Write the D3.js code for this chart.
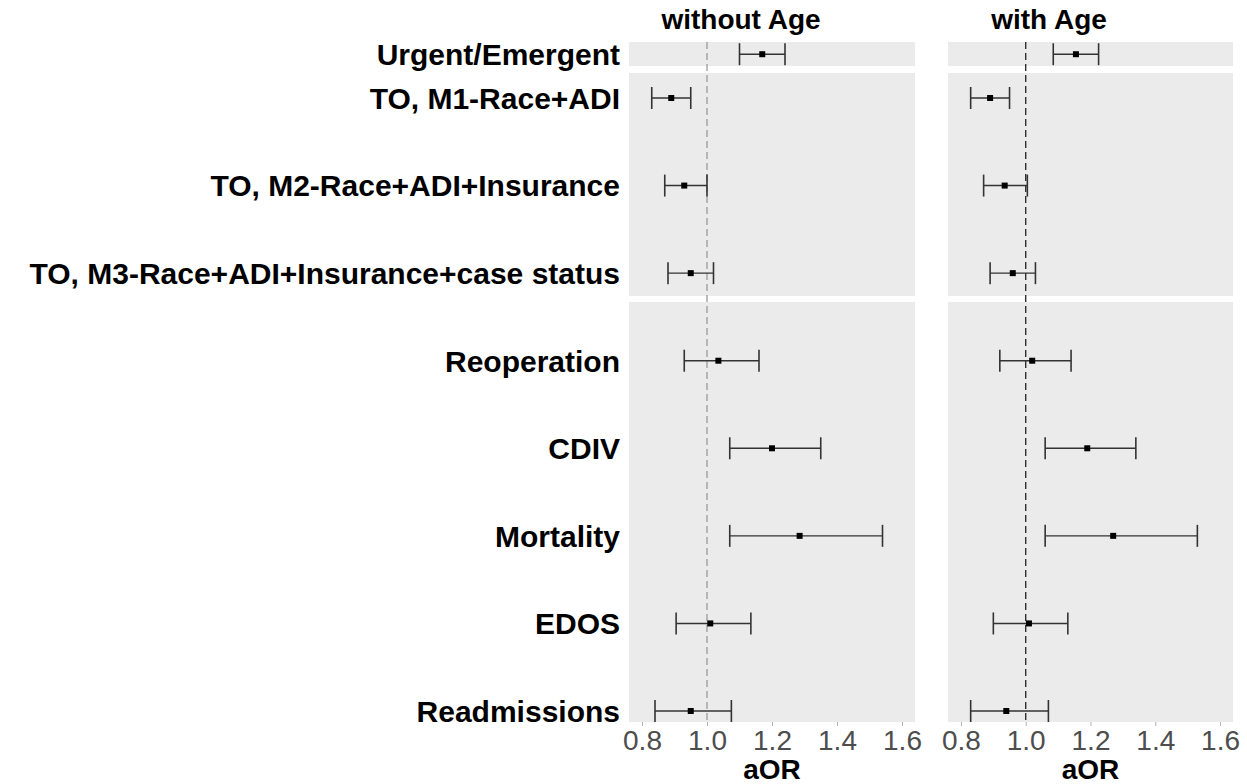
<!DOCTYPE html>
<html>
<head>
<meta charset="utf-8">
<script src="https://cdn.jsdelivr.net/npm/d3@7"></script>
<style>
    body { margin: 0; background: #fff; }
    text { font-family: "Liberation Sans", Arial, sans-serif; }
</style>
</head>
<body>
<script>
// rows, top to bottom
const outcomes = ["Urgent/Emergent", "TO, M1-Race+ADI", "TO, M2-Race+ADI+Insurance",
    "TO, M3-Race+ADI+Insurance+case status", "Reoperation", "CDIV", "Mortality", "EDOS", "Readmissions"];
const outcomeGroup = [0, 1, 1, 1, 2, 2, 2, 2, 2];

const facetTitles = ["without Age", "with Age"];

// without Age
const estWithout = [1.17, 0.89, 0.93, 0.95, 1.035, 1.20, 1.285, 1.01, 0.95];
const lowWithout = [1.10, 0.83, 0.87, 0.88, 0.93, 1.07, 1.07, 0.905, 0.84];
const highWithout = [1.24, 0.95, 1.00, 1.02, 1.16, 1.35, 1.54, 1.135, 1.075];

// with Age
const estWith = [1.155, 0.89, 0.935, 0.96, 1.02, 1.19, 1.27, 1.01, 0.94];
const lowWith = [1.085, 0.83, 0.87, 0.89, 0.92, 1.06, 1.06, 0.90, 0.83];
const highWith = [1.225, 0.95, 1.005, 1.03, 1.14, 1.34, 1.53, 1.13, 1.07];

const xTicks = [0.8, 1.0, 1.2, 1.4, 1.6];
const xLabel = "aOR";

const width = 1247;
const height = 784;

const svg = d3.select("body").append("svg")
    .attr("width", width)
    .attr("height", height);

// facet columns and row strips
const columns = [
    { title: facetTitles[0], left: 629, right: 915, titleX: 741, ref: "#9a9a9a",
      est: estWithout, low: lowWithout, high: highWithout },
    { title: facetTitles[1], left: 948, right: 1233, titleX: 1049, ref: "#222",
      est: estWith, low: lowWith, high: highWith }
];
const strips = [[42, 66], [73, 296], [302, 722]];

// row position: the outcome rows sit on a regular grid, the urgent row half a step above
const yScale = d3.scaleLinear().domain([0, 7]).range([98, 711]);
const rowPos = outcomes.map((d, i) => i === 0 ? yScale(-0.5) : yScale(i - 1));

const capHalf = 11;

columns.forEach(col => {
    const xScale = d3.scaleLinear()
        .domain([0.76, 1.64])
        .range([col.left, col.right]);

    const g = svg.append("g");

    g.selectAll("rect.strip")
        .data(strips)
        .enter()
        .append("rect")
        .attr("class", "strip")
        .attr("x", col.left)
        .attr("y", d => d[0])
        .attr("width", col.right - col.left)
        .attr("height", d => d[1] - d[0])
        .attr("fill", "#ebebeb");

    // reference line at 1
    g.append("line")
        .attr("x1", xScale(1)).attr("x2", xScale(1))
        .attr("y1", strips[0][0]).attr("y2", strips[2][1])
        .attr("stroke", col.ref)
        .attr("stroke-width", 1.3)
        .attr("stroke-dasharray", "7,4");

    const rows = outcomes.map((name, i) => ({
        name, y: rowPos[i], est: col.est[i], low: col.low[i], high: col.high[i]
    }));

    const bars = g.selectAll("g.bar")
        .data(rows)
        .enter()
        .append("g")
        .attr("class", "bar");

    bars.append("line")
        .attr("x1", d => xScale(d.low))
        .attr("x2", d => xScale(d.high))
        .attr("y1", d => d.y).attr("y2", d => d.y)
        .attr("stroke", "#333").attr("stroke-width", 1.4);
    bars.append("line")
        .attr("x1", d => xScale(d.low)).attr("x2", d => xScale(d.low))
        .attr("y1", d => d.y - capHalf).attr("y2", d => d.y + capHalf)
        .attr("stroke", "#333").attr("stroke-width", 1.6);
    bars.append("line")
        .attr("x1", d => xScale(d.high)).attr("x2", d => xScale(d.high))
        .attr("y1", d => d.y - capHalf).attr("y2", d => d.y + capHalf)
        .attr("stroke", "#333").attr("stroke-width", 1.6);
    bars.append("rect")
        .attr("x", d => xScale(d.est) - 3)
        .attr("y", d => d.y - 3)
        .attr("width", 6).attr("height", 6)
        .attr("fill", "#000");

    const xAxis = d3.axisBottom(xScale)
        .tickValues(xTicks)
        .tickFormat(d3.format(".1f"))
        .tickSize(4)
        .tickPadding(4);

    const axis = g.append("g")
        .attr("transform", `translate(0, ${strips[2][1]})`)
        .call(xAxis);
    axis.select(".domain").remove();
    axis.selectAll(".tick line").attr("stroke", "#b0b0b0");
    axis.selectAll(".tick text")
        .attr("fill", "#4d4d4d")
        .style("font-size", "28px");

    g.append("text")
        .attr("x", (col.left + col.right) / 2)
        .attr("y", 779)
        .attr("text-anchor", "middle")
        .style("font-size", "28px")
        .style("font-weight", "bold")
        .text(xLabel);

    g.append("text")
        .attr("x", col.titleX)
        .attr("y", 29)
        .attr("text-anchor", "middle")
        .style("font-size", "28px")
        .style("font-weight", "bold")
        .text(col.title);
});

svg.selectAll("text.rowlabel")
    .data(outcomes)
    .enter()
    .append("text")
    .attr("class", "rowlabel")
    .attr("x", 620)
    .attr("y", (d, i) => rowPos[i])
    .attr("dy", "0.36em")
    .attr("text-anchor", "end")
    .style("font-size", "30px")
    .style("font-weight", "bold")
    .text(d => d);
</script>
</body>
</html>
